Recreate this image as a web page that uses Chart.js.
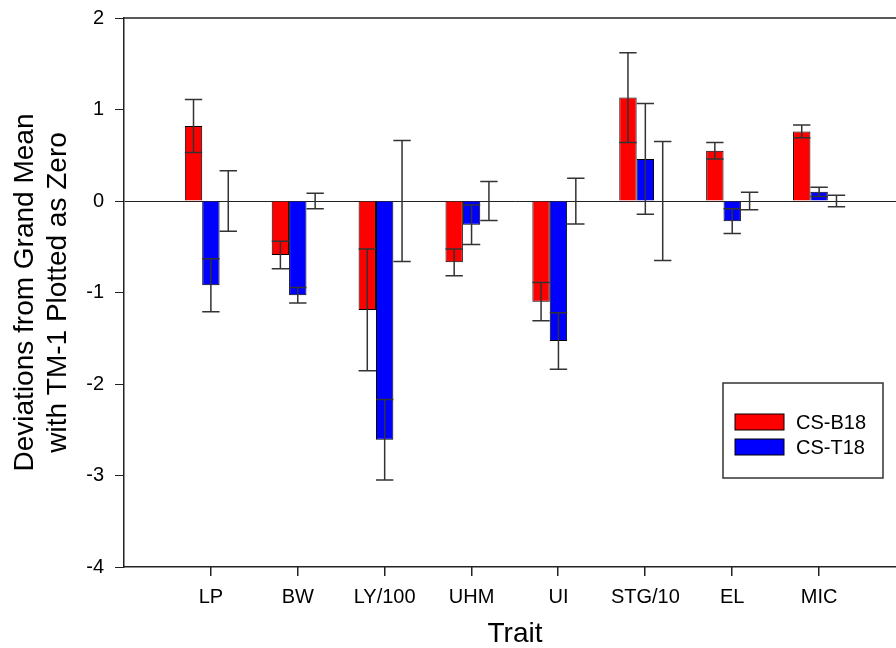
<!DOCTYPE html>
<html>
<head>
<meta charset="utf-8">
<script src="https://cdn.jsdelivr.net/npm/chart.js@4/dist/chart.umd.min.js"></script>
<style>
  html, body { margin: 0; padding: 0; background: #fff; overflow: hidden; }
  #wrap { width: 906px; height: 648px; }
</style>
</head>
<body>
<div id="wrap"><canvas id="traitChart"></canvas></div>
<script>
const traits = ["LP", "BW", "LY/100", "UHM", "UI", "STG/10", "EL", "MIC"];
const csB18 = [0.82, -0.59, -1.19, -0.67, -1.10, 1.13, 0.55, 0.76];
const csB18Err = [0.29, 0.15, 0.665, 0.146, 0.208, 0.49, 0.09, 0.07];
const csT18 = [-0.92, -1.03, -2.61, -0.26, -1.53, 0.46, -0.22, 0.10];
const csT18Err = [0.29, 0.085, 0.44, 0.215, 0.31, 0.606, 0.135, 0.05];
// TM-1 is the zero reference, only its error bar is shown
const tm1 = [0, 0, 0, 0, 0, 0, 0, 0];
const tm1Err = [0.33, 0.085, 0.66, 0.213, 0.25, 0.65, 0.096, 0.064];
const yTicks = [-4, -3, -2, -1, 0, 1, 2];

const FONT = "'Liberation Sans', Arial, sans-serif";
const AXIS = "#222";

// blank slots at both ends so the traits sit at 1..8 on the axis
const pad = (arr) => [null, ...arr, null];

const errorBars = {
  id: "errorBars",
  afterDatasetsDraw(chart) {
    const ctx = chart.ctx;
    const y = chart.scales.y;
    ctx.save();
    ctx.strokeStyle = "#333";
    ctx.lineWidth = 1.5;
    chart.data.datasets.forEach((ds, i) => {
      const meta = chart.getDatasetMeta(i);
      meta.data.forEach((bar, j) => {
        const v = ds.data[j];
        const e = ds.errors[j];
        if (v == null || e == null) return;
        const top = y.getPixelForValue(v + e);
        const bot = y.getPixelForValue(v - e);
        const half = bar.width / 2;
        ctx.beginPath();
        ctx.moveTo(bar.x, top);
        ctx.lineTo(bar.x, bot);
        ctx.moveTo(bar.x - half, top);
        ctx.lineTo(bar.x + half, top);
        ctx.moveTo(bar.x - half, bot);
        ctx.lineTo(bar.x + half, bot);
        ctx.stroke();
      });
    });
    ctx.restore();
  },
};

const frameAndLegend = {
  id: "frameAndLegend",
  afterDraw(chart) {
    const ctx = chart.ctx;
    const area = chart.chartArea;
    const x = chart.scales.x;
    ctx.save();
    // top frame line
    ctx.strokeStyle = AXIS;
    ctx.lineWidth = 1.5;
    ctx.beginPath();
    ctx.moveTo(area.left, area.top);
    ctx.lineTo(area.right, area.top);
    ctx.stroke();

    // tick marks under each trait
    ctx.fillStyle = AXIS;
    traits.forEach((t, i) => {
      const px = x.getPixelForValue(i + 1);
      ctx.fillRect(Math.round(px) - 1, Math.round(area.bottom), 1.5, 9);
    });

    // legend box
    ctx.lineWidth = 1.5;
    ctx.strokeStyle = "#333";
    ctx.strokeRect(723, 383, 160, 95);
    ctx.font = "20px " + FONT;
    ctx.textBaseline = "middle";
    chart.data.datasets.slice(0, 2).forEach((ds, i) => {
      const sy = 414 + i * 25;
      ctx.fillStyle = ds.backgroundColor;
      ctx.fillRect(735, sy, 49, 16);
      ctx.lineWidth = 1;
      ctx.strokeStyle = "#000";
      ctx.strokeRect(735, sy, 49, 16);
      ctx.fillStyle = "#000";
      ctx.fillText(ds.label, 796, sy + 9);
    });
    ctx.restore();
  },
};

new Chart(document.getElementById("traitChart"), {
  type: "bar",
  data: {
    labels: pad(traits),
    datasets: [
      {
        label: "CS-B18",
        data: pad(csB18),
        errors: pad(csB18Err),
        backgroundColor: "#ff0000",
        borderColor: "#000",
        borderWidth: 1,
      },
      {
        label: "CS-T18",
        data: pad(csT18),
        errors: pad(csT18Err),
        backgroundColor: "#0000ff",
        borderColor: "#000",
        borderWidth: 1,
      },
      {
        label: "TM-1",
        data: pad(tm1),
        errors: pad(tm1Err),
        backgroundColor: "rgba(0,0,0,0)",
        borderWidth: 0,
      },
    ],
  },
  options: {
    responsive: true,
    maintainAspectRatio: false,
    animation: false,
    categoryPercentage: 0.6,
    barPercentage: 1.0,
    layout: { padding: { top: 18, left: 0, right: 0, bottom: 0 } },
    plugins: {
      legend: { display: false },
      tooltip: { enabled: false },
    },
    scales: {
      x: {
        offset: false,
        afterFit: (scale) => { scale.height = 81; },
        grid: {
          offset: false,
          drawOnChartArea: false,
          tickLength: 8,
          color: "rgba(0,0,0,0)",
          tickColor: "rgba(0,0,0,0)",
        },
        border: { display: true, color: AXIS, width: 1.5 },
        ticks: {
          color: "#000",
          padding: 10,
          maxRotation: 0,
          autoSkip: false,
          font: { family: FONT, size: 20 },
        },
        title: {
          display: true,
          text: "Trait",
          color: "#000",
          padding: { top: 0, bottom: 0 },
          font: { family: FONT, size: 28, lineHeight: 1 },
        },
      },
      y: {
        min: yTicks[0],
        max: yTicks[yTicks.length - 1],
        afterFit: (scale) => {
          scale.width = 124;
          scale.paddingTop = 0;
          scale.paddingBottom = 0;
        },
        afterBuildTicks: (scale) => { scale.ticks = yTicks.map((v) => ({ value: v })); },
        grid: {
          tickLength: 9,
          tickColor: AXIS,
          color: (c) => (c.tick && c.tick.value === 0 ? "#222" : "rgba(0,0,0,0)"),
          lineWidth: 1,
        },
        border: { display: true, color: AXIS, width: 1.5 },
        ticks: {
          color: "#000",
          padding: 11,
          font: { family: FONT, size: 20 },
        },
        title: {
          display: true,
          text: ["Deviations from Grand Mean", "with TM-1 Plotted as Zero"],
          color: "#000",
          padding: { top: 8, bottom: 0 },
          font: { family: FONT, size: 28, lineHeight: 1.2 },
        },
      },
    },
  },
  plugins: [errorBars, frameAndLegend],
});
</script>
</body>
</html>
